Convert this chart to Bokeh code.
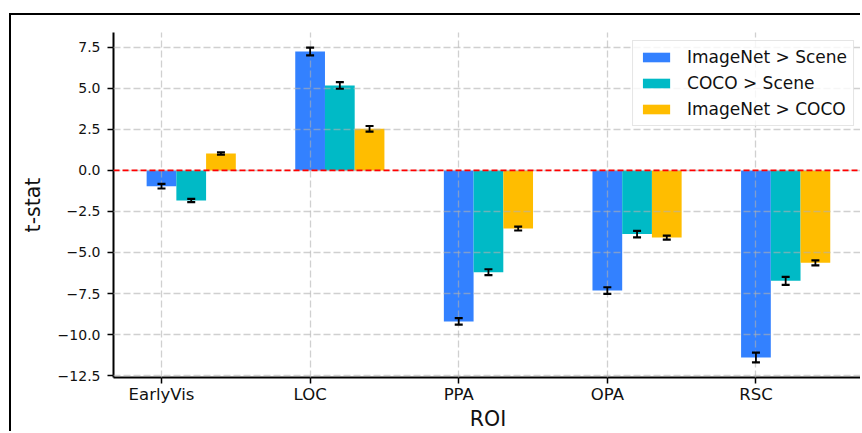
from bokeh.plotting import figure
from bokeh.models import Range1d, FixedTicker, Span, Whisker, ColumnDataSource, Legend, LegendItem
from bokeh.embed import file_html
from bokeh.resources import INLINE

categories = ["EarlyVis", "LOC", "PPA", "OPA", "RSC"]
series_names = ["ImageNet > Scene", "COCO > Scene", "ImageNet > COCO"]
imagenet_scene = [-0.96, 7.25, -9.2, -7.32, -11.4]
coco_scene = [-1.83, 5.18, -6.2, -3.88, -6.73]
imagenet_coco = [1.04, 2.54, -3.54, -4.09, -5.63]
err_imagenet_scene = [0.14, 0.24, 0.2, 0.2, 0.3]
err_coco_scene = [0.1, 0.2, 0.18, 0.2, 0.24]
err_imagenet_coco = [0.07, 0.17, 0.12, 0.12, 0.15]
yticks = [-12.5, -10.0, -7.5, -5.0, -2.5, 0.0, 2.5, 5.0, 7.5]
ytick_labels = ["\u221212.5", "\u221210.0", "\u22127.5", "\u22125.0", "\u22122.5", "0.0", "2.5", "5.0", "7.5"]

colors = ["#3381ff", "#00bac6", "#ffbd00"]
bar_width = 0.2
FONT = "DejaVu Sans"

p = figure(width=851, height=418,
           x_range=Range1d(-0.323, 4.717), y_range=Range1d(-12.62, 8.41),
           output_backend="svg", toolbar_location=None,
           min_border_left=102, min_border_top=17, min_border_right=0, min_border_bottom=56)
p.styles = {"border-left": "2px solid #000", "border-top": "2px solid #000",
            "margin-left": "9px", "margin-top": "13px"}
p.outline_line_color = None
p.background_fill_color = "white"

all_series = [imagenet_scene, coco_scene, imagenet_coco]
all_errs = [err_imagenet_scene, err_coco_scene, err_imagenet_coco]
items = []
for k, (vals, errs) in enumerate(zip(all_series, all_errs)):
    xs = [i + k * bar_width for i in range(len(categories))]
    src = ColumnDataSource(dict(x=xs, top=vals,
                                upper=[v + e for v, e in zip(vals, errs)],
                                lower=[v - e for v, e in zip(vals, errs)]))
    r = p.vbar(x="x", top="top", bottom=0, width=bar_width, source=src,
               fill_color=colors[k], line_color=None)
    items.append(LegendItem(label=series_names[k], renderers=[r]))
    w = Whisker(base="x", upper="upper", lower="lower", source=src,
                line_color="black", line_width=1.8, level="overlay")
    w.upper_head.size = 8
    w.lower_head.size = 8
    w.upper_head.line_width = 2.2
    w.lower_head.line_width = 2.2
    w.upper_head.line_color = "black"
    w.lower_head.line_color = "black"
    p.add_layout(w)

p.add_layout(Span(location=0, dimension="width", line_color="red",
                  line_dash="6 3", line_width=1.8, level="overlay"))

# grids above bars
for g in (p.xgrid, p.ygrid):
    g.level = "annotation"
    g.grid_line_color = "#b0b0b0"
    g.grid_line_alpha = 0.6
    g.grid_line_dash = "7 3"
    g.grid_line_width = 1.3

p.xaxis.ticker = FixedTicker(ticks=list(range(len(categories))))
p.xaxis.major_label_overrides = {i: c for i, c in enumerate(categories)}
p.yaxis.ticker = FixedTicker(ticks=yticks)
p.yaxis.major_label_overrides = {t: l for t, l in zip(yticks, ytick_labels)}

for ax in (p.xaxis, p.yaxis):
    ax.axis_line_width = 2
    ax.axis_line_color = "black"
    ax.major_tick_line_width = 1.5
    ax.major_tick_line_color = "black"
    ax.major_tick_out = 6
    ax.major_tick_in = 0
    ax.minor_tick_line_color = None
    ax.major_label_text_font = FONT
    ax.major_label_text_color = "#111111"
    ax.axis_label_text_font = FONT
    ax.axis_label_text_font_style = "normal"
    ax.axis_label_text_color = "#111111"
    ax.axis_label_text_font_size = "20.5px"

p.xaxis.major_label_text_font_size = "16.5px"
p.yaxis.major_label_text_font_size = "14px"
p.xaxis.major_label_standoff = 1
p.yaxis.major_label_standoff = 7
p.xaxis.axis_label = "ROI"
p.yaxis.axis_label = "t-stat"
p.xaxis.axis_label_standoff = 0
p.yaxis.axis_label_standoff = 10

legend = Legend(items=items, location="top_right", margin=8,
                label_text_font=FONT, label_text_font_size="17px",
                label_text_color="#111111",
                glyph_width=34, glyph_height=12, label_standoff=14,
                label_height=20, spacing=6, padding=6,
                border_line_color="#cccccc", border_line_width=1.2,
                background_fill_alpha=0.8)
p.add_layout(legend, "center")

open("out.html", "w").write(file_html(p, INLINE))
